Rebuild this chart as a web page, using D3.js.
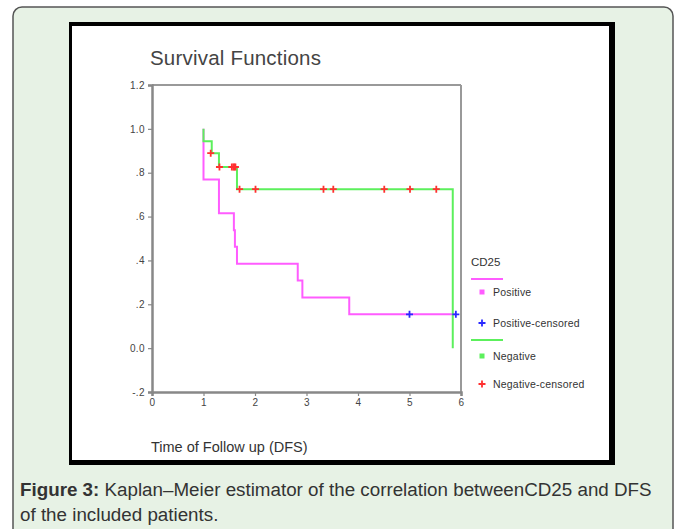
<!DOCTYPE html>
<html><head><meta charset="utf-8">
<script src="https://cdn.jsdelivr.net/npm/d3@7"></script>
<style>
html,body{margin:0;padding:0;background:#fff;}
svg{display:block;font-family:Arial,"Liberation Sans",sans-serif;}
</style></head>
<body>
<svg id="c" width="680" height="529"></svg>
<script>
// ---- data ----
const yTickValues = [-0.2, 0, 0.2, 0.4, 0.6, 0.8, 1.0, 1.2];
const yTickLabels = ["-.2", "0.0", ".2", ".4", ".6", ".8", "1.0", "1.2"];
const xTickValues = [0, 1, 2, 3, 4, 5, 6];
const xTickLabels = ["0", "1", "2", "3", "4", "5", "6"];

// Positive (CD25+) step curve: start, events, end
const posTime = [1.00, 1.00, 1.30, 1.59, 1.61, 1.65, 2.83, 2.92, 3.83, 5.90];
const posSurv = [1.000, 0.769, 0.615, 0.538, 0.462, 0.385, 0.308, 0.231, 0.154, 0.154];
const posCensTime = [5.00, 5.90];
const posCensSurv = [0.154, 0.154];

// Negative (CD25-) step curve
const negTime = [1.00, 1.00, 1.16, 1.30, 1.65, 5.84];
const negSurv = [1.000, 0.944, 0.889, 0.826, 0.725, 0.000];
const negCensTime = [1.14, 1.31, 1.55, 1.58, 1.60, 1.62, 1.70, 2.01, 3.33, 3.52, 4.51, 5.01, 5.52];
const negCensSurv = [0.889, 0.826, 0.826, 0.826, 0.826, 0.826, 0.725, 0.725, 0.725, 0.725, 0.725, 0.725, 0.725];

const legendLabels = ["Positive", "Positive-censored", "Negative", "Negative-censored"];
const colPos = "#ff5cff", colPosC = "#2a2aff", colNeg = "#5cf05c", colNegC = "#ff3030";

const svg = d3.select("#c");

// panel
svg.append("rect").attr("x", 13).attr("y", 7).attr("width", 660).attr("height", 600)
  .attr("rx", 9).attr("fill", "#e7f2e5").attr("stroke", "#555").attr("stroke-width", 1.5);

// black frame
svg.append("rect").attr("x", 69).attr("y", 22).attr("width", 546).attr("height", 443).attr("fill", "#000");
svg.append("rect").attr("x", 72).attr("y", 26).attr("width", 537).attr("height", 434).attr("fill", "#fff");

const x = d3.scaleLinear().domain([0, 6]).range([152, 461]);
const y = d3.scaleLinear().domain([-0.2, 1.2]).range([392, 85]);

// title
svg.append("text").attr("x", 150).attr("y", 65).attr("font-size", 20.5).attr("letter-spacing", 0.2)
  .attr("fill", "#444").text("Survival Functions");

// box (top and right)
svg.append("line").attr("x1", x(0)).attr("x2", x(6)).attr("y1", y(1.2)).attr("y2", y(1.2))
  .attr("stroke", "#999").attr("stroke-width", 2);
svg.append("line").attr("x1", x(6)).attr("x2", x(6)).attr("y1", y(1.2)).attr("y2", y(-0.2))
  .attr("stroke", "#999").attr("stroke-width", 2);

// axes
const yAxis = d3.axisLeft(y).tickValues(yTickValues).tickSize(4).tickPadding(3)
  .tickFormat((d, i) => yTickLabels[i]);
const gy = svg.append("g").attr("transform", `translate(${x(0)},0)`).call(yAxis);
const xAxis = d3.axisBottom(x).tickValues(xTickValues).tickSize(4).tickPadding(3)
  .tickFormat((d, i) => xTickLabels[i]);
const gx = svg.append("g").attr("transform", `translate(0,${y(-0.2)})`).call(xAxis);
[gy, gx].forEach(g => {
  g.select(".domain").attr("stroke", "#888").attr("stroke-width", 2.5);
  g.selectAll(".tick line").attr("stroke", "#888").attr("stroke-width", 1.2);
  g.selectAll(".tick text").attr("fill", "#444").attr("font-size", 10).attr("letter-spacing", 0.4)
    .attr("font-family", "Arial, 'Liberation Sans', sans-serif");
});

// x title
svg.append("text").attr("x", 151).attr("y", 452).attr("font-size", 14.5)
  .attr("fill", "#333").text("Time of Follow up (DFS)");

// curves
const line = d3.line().x(d => x(d[0])).y(d => y(d[1])).curve(d3.curveStepAfter);
const posPts = posTime.map((t, i) => [t, posSurv[i]]);
const negPts = negTime.map((t, i) => [t, negSurv[i]]);
svg.append("path").attr("d", line(posPts)).attr("fill", "none").attr("stroke", colPos).attr("stroke-width", 2);
svg.append("path").attr("d", line(negPts)).attr("fill", "none").attr("stroke", colNeg).attr("stroke-width", 2);

const plus = (cx, cy, s) => `M${cx - s},${cy}H${cx + s}M${cx},${cy - s}V${cy + s}`;
svg.append("g").selectAll("path").data(negCensTime).join("path")
  .attr("d", (t, i) => plus(x(t), y(negCensSurv[i]), 3.5))
  .attr("stroke", colNegC).attr("stroke-width", 1.8);
svg.append("g").selectAll("path").data(posCensTime).join("path")
  .attr("d", (t, i) => plus(x(t), y(posCensSurv[i]), 3.5))
  .attr("stroke", colPosC).attr("stroke-width", 1.8);

// legend
const lg = svg.append("g");
lg.append("text").attr("x", 471).attr("y", 266).attr("font-size", 11.5).attr("fill", "#333").text("CD25");
lg.append("line").attr("x1", 471).attr("x2", 503).attr("y1", 279).attr("y2", 279).attr("stroke", colPos).attr("stroke-width", 2);
lg.append("line").attr("x1", 471).attr("x2", 503).attr("y1", 340).attr("y2", 340).attr("stroke", colNeg).attr("stroke-width", 2);
const legY = [292, 323, 356, 384];
lg.append("rect").attr("x", 479.5).attr("y", legY[0] - 2.5).attr("width", 5).attr("height", 5).attr("fill", colPos);
lg.append("path").attr("d", plus(482, legY[1], 3.5)).attr("stroke", colPosC).attr("stroke-width", 1.8);
lg.append("rect").attr("x", 479.5).attr("y", legY[2] - 2.5).attr("width", 5).attr("height", 5).attr("fill", colNeg);
lg.append("path").attr("d", plus(482, legY[3], 3.5)).attr("stroke", colNegC).attr("stroke-width", 1.8);
lg.selectAll("text.l").data(legendLabels).join("text").attr("class", "l")
  .attr("x", 493).attr("y", (d, i) => legY[i] + 3.5).attr("font-size", 10.5).attr("letter-spacing", 0.2)
  .attr("fill", "#333").text(d => d);

// caption
const capSize = 18.5;
const cap = svg.append("text").attr("x", 20).attr("y", 496).attr("font-size", capSize).attr("fill", "#333");
cap.append("tspan").attr("font-weight", "bold").text("Figure 3:");
cap.append("tspan").text(" Kaplan\u2013Meier estimator of the correlation betweenCD25 and DFS");
const cap2 = svg.append("text").attr("x", 20).attr("y", 521).attr("font-size", capSize).attr("fill", "#333")
  .text("of the included patients.");
// fit line 1 to its width in the picture
const w1 = cap.node().getComputedTextLength();
const fs = capSize * 632 / w1;
cap.attr("font-size", fs);
cap2.attr("font-size", fs);
</script>
</body></html>
